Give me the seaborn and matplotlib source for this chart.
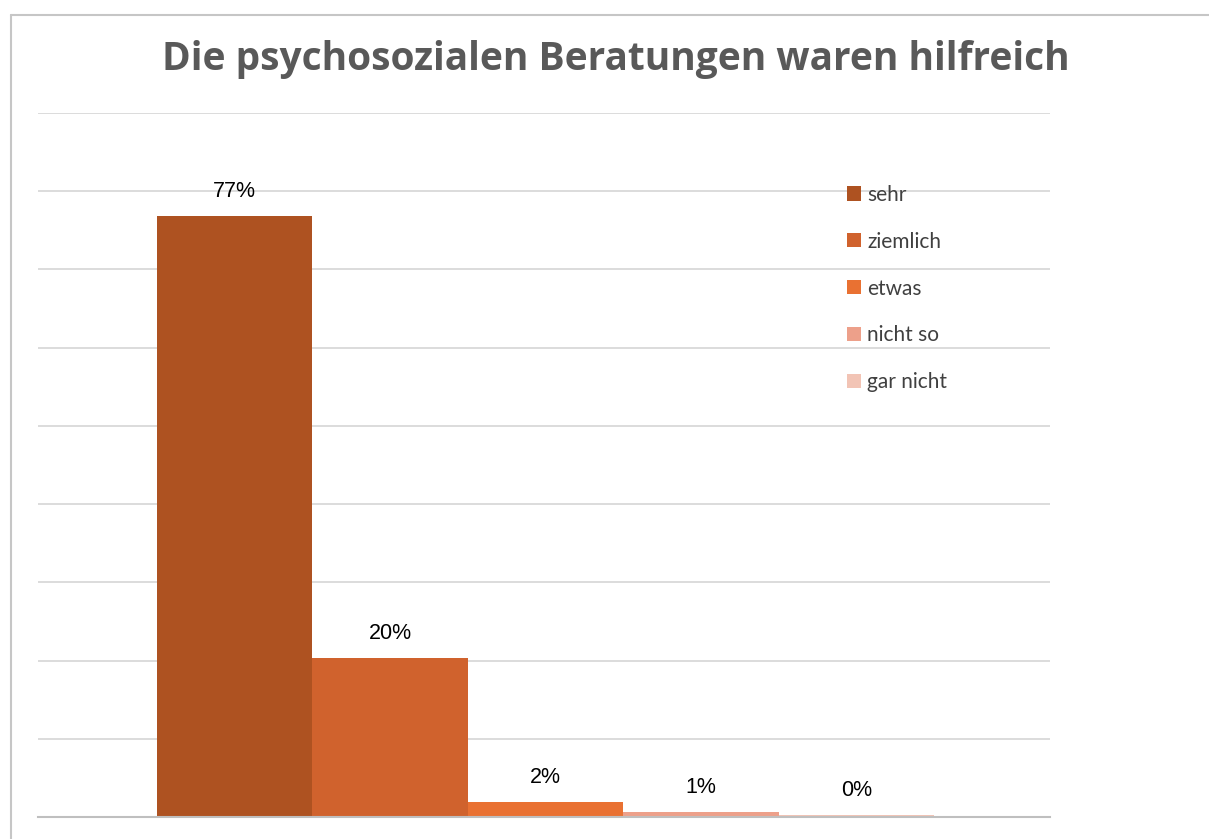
import matplotlib
matplotlib.use("Agg")
import matplotlib.pyplot as plt
from matplotlib.lines import Line2D
import seaborn as sns
import pandas as pd

# Antwortkategorien und Anteile
antworten = ["sehr", "ziemlich", "etwas", "nicht so", "gar nicht"]
anteile = [0.768, 0.203, 0.019, 0.007, 0.003]
farben = ["#AE5221", "#D0622D", "#E97132", "#EDA08A", "#F2C4B5"]
titel = "Die psychosozialen Beratungen waren hilfreich"

df = pd.DataFrame({"frage": ["x"] * len(antworten),
                   "antwort": antworten,
                   "anteil": anteile})

sns.set_theme(style="white")
plt.rcParams["font.family"] = ["Liberation Sans", "DejaVu Sans"]

W, H = 1209, 839
fig = plt.figure(figsize=(W / 100, H / 100), dpi=100)
ax = fig.add_axes([38 / W, 1 - 817 / H, (1050 - 38) / W, (817 - 113) / H])

bar_w = 0.8
sns.barplot(data=df, x="frage", y="anteil", hue="antwort", palette=farben,
            hue_order=antworten, width=bar_w, gap=0, saturation=1,
            linewidth=0, ax=ax)

# Prozentbeschriftung über den Balken
for cont in ax.containers:
    ax.bar_label(cont, labels=[f"{v:.0%}" for v in cont.datavalues],
                 padding=10, fontsize=15.5, color="#000000")

ax.set_ylim(0, 0.9)
ax.set_yticks([i / 10 for i in range(1, 10)])
px = bar_w / 777
ax.set_xlim(-bar_w / 2 - 119 * px, bar_w / 2 + 116 * px)
ax.set_xlabel("")
ax.set_ylabel("")
ax.set_xticks([])
ax.set_yticklabels([])
ax.tick_params(left=False, bottom=False)
ax.grid(axis="y", color="#d9d9d9", linewidth=1.3)
ax.set_axisbelow(True)
for s in ["top", "left", "right"]:
    ax.spines[s].set_visible(False)
ax.spines["bottom"].set_color("#bfbfbf")
ax.spines["bottom"].set_linewidth(1.5)

sns.move_legend(ax, "upper left", bbox_to_anchor=(828 / W, 1 - 166 / H),
                bbox_transform=fig.transFigure, title=None, frameon=False,
                handlelength=0.68, handleheight=0.68, handletextpad=0.3,
                labelspacing=1.29, prop={"family": "Lato", "size": 15},
                labelcolor="#404040")

fig.text(616 / W, 1 - 70 / H, titel, ha="center", va="baseline",
         fontsize=28, fontweight="bold", color="#595959", family="Open Sans")

# Rahmen des Diagrammbereichs
fig.add_artist(Line2D([11 / W, 1], [1 - 15 / H, 1 - 15 / H], color="#c6c6c6",
                      linewidth=1.5, transform=fig.transFigure))
fig.add_artist(Line2D([11 / W, 11 / W], [0, 1 - 15 / H], color="#c6c6c6",
                      linewidth=1.5, transform=fig.transFigure))

fig.savefig("out.png", dpi=100, facecolor="white")
